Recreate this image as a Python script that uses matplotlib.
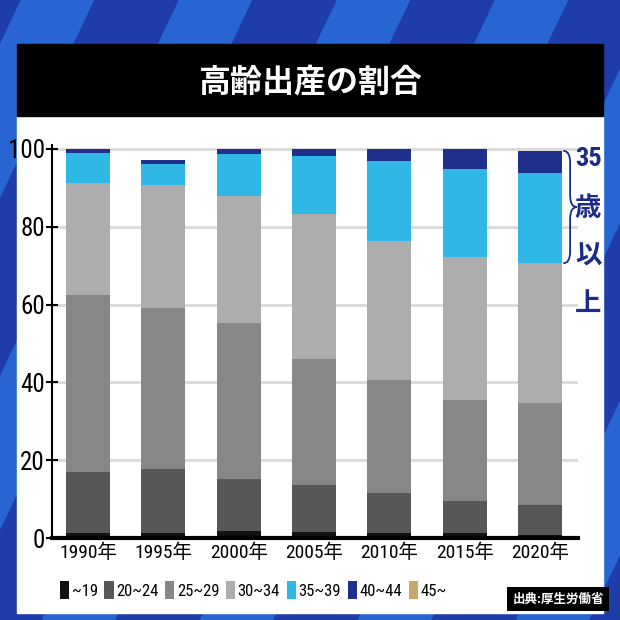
import numpy as np
import matplotlib.pyplot as plt
from matplotlib import font_manager
from matplotlib.patches import Rectangle, Polygon, PathPatch
from matplotlib.path import Path
from matplotlib.transforms import blended_transform_factory

years = ['1990年', '1995年', '2000年', '2005年', '2010年', '2015年', '2020年']
age_groups = ['~19', '20~24', '25~29', '30~34', '35~39', '40~44', '45~']
under19 = [1.4, 1.3, 1.7, 1.6, 1.3, 1.3, 0.7]
age20_24 = [15.6, 16.4, 13.5, 12.0, 10.2, 8.2, 7.9]
age25_29 = [45.5, 41.3, 40.0, 32.3, 29.1, 26.0, 26.0]
age30_34 = [28.7, 31.6, 32.8, 37.4, 35.6, 36.7, 36.0]
age35_39 = [7.7, 5.5, 10.7, 14.9, 20.8, 22.6, 23.3]
age40_44 = [1.1, 1.1, 1.3, 1.7, 2.9, 5.1, 5.6]
age45_up = [0.0, 0.0, 0.0, 0.0, 0.0, 0.0, 0.0]
series = [under19, age20_24, age25_29, age30_34, age35_39, age40_44, age45_up]
colors = ['#111111', '#575757', '#878787', '#adadad', '#2fb7e6', '#1e2f8c', '#c8a768']
yticks = [0, 20, 40, 60, 80, 100]

navy = '#1b2c86'

# fonts: a narrow latin face if there is one, CJK as fallback
names = {f.name for f in font_manager.fontManager.ttflist}
narrow = next((n for n in ['Liberation Sans Narrow', 'Roboto Condensed', 'Liberation Sans']
               if n in names), 'DejaVu Sans')
cjk = 'Noto Sans CJK JP'
plt.rcParams['font.family'] = [narrow, cjk, 'DejaVu Sans']

W = H = 620
def fx(x): return x / W
def fy(y): return 1 - y / H

fig = plt.figure(figsize=(6.2, 6.2), dpi=100)

# blue striped background, white panel, black title bar
fig.patches.append(Rectangle((0, 0), 1, 1, transform=fig.transFigure,
                             color='#2766d2', zorder=-10))
for k in range(-3, 8):
    x0 = 95 + 158 * k
    pts = [(x0, 0), (x0 + 83, 0), (x0 + 83 - 295, 620), (x0 - 295, 620)]
    fig.patches.append(Polygon([(fx(a), fy(b)) for a, b in pts], closed=True,
                               transform=fig.transFigure, color='#1e3dab', zorder=-9))
fig.patches.append(Rectangle((fx(17), fy(613)), fx(586), 497 / H, transform=fig.transFigure,
                             color='white', zorder=-8))
fig.patches.append(Rectangle((fx(17), fy(116)), fx(586), 72 / H, transform=fig.transFigure,
                             color='black', zorder=-8))
fig.text(fx(310), fy(82), '高齢出産の割合', color='white', fontsize=23,
         fontweight='bold', ha='center', va='center', family=[cjk])

ax = fig.add_axes([fx(52), fy(538), fx(578) - fx(52), (538 - 145) / H])
ax.set_facecolor('none')
x = np.arange(len(years))
bottom = np.zeros(len(years))
handles = []
for vals, c, lab in zip(series, colors, age_groups):
    b = ax.bar(x, vals, width=0.585, bottom=bottom, color=c, label=lab, zorder=2)
    handles.append(b)
    bottom = bottom + np.array(vals)

ax.set_xlim(-0.478, 6.505)
ax.set_ylim(0, 101)
ax.set_yticks(yticks)
ax.set_xticks(x, years)
ax.yaxis.grid(True, color='#d9d9d9', lw=2)
ax.set_axisbelow(True)
for s in ['top', 'right']:
    ax.spines[s].set_visible(False)
ax.spines['left'].set_linewidth(1.5)
ax.spines['bottom'].set_linewidth(3)
ax.tick_params(axis='y', direction='inout', length=8, width=1.5, labelsize=18, pad=1)
ax.tick_params(axis='x', length=0, labelsize=14, pad=4)

# brace for 35+ on the 2020 bar
top = bottom[-1]
bot = sum(s[-1] for s in series[:4])
mid = (top + bot) / 2
d = 3
x0, x1, x2 = 0.972, 0.985, 0.998
verts = [(x0, top), (x1, top), (x1, top - d), (x1, mid + d), (x1, mid), (x2, mid),
         (x1, mid), (x1, mid - d), (x1, bot + d), (x1, bot), (x0, bot)]
codes = [Path.MOVETO, Path.CURVE3, Path.CURVE3, Path.LINETO, Path.CURVE3, Path.CURVE3,
         Path.CURVE3, Path.CURVE3, Path.LINETO, Path.CURVE3, Path.CURVE3]
ax.add_patch(PathPatch(Path(verts, codes), fill=False, lw=1.3, ec=navy, clip_on=False,
                       transform=blended_transform_factory(ax.transAxes, ax.transData)))
fig.text(fx(588), fy(159), '35', color=navy, fontsize=19, fontweight='bold',
         ha='center', va='center')
for ch, yy in zip(['歳', '以', '上'], [208, 256, 303]):
    fig.text(fx(588), fy(yy), ch, color=navy, fontsize=19, fontweight='bold',
             ha='center', va='center', family=[cjk])

ax.legend(handles=handles, loc='center left', bbox_to_anchor=(fx(60), fy(590)),
          bbox_transform=fig.transFigure, ncol=7, frameon=False, fontsize=12,
          handlelength=0.55, handleheight=1.2, handletextpad=0.15, columnspacing=0.4,
          borderaxespad=0, borderpad=0)

fig.text(fx(558), fy(599), '出典:厚生労働省', color='white', fontsize=9, fontweight='bold',
         ha='center', va='center', family=[cjk],
         bbox=dict(facecolor='black', edgecolor='none', boxstyle='square,pad=0.45'))

fig.savefig('out.png', dpi=100)
